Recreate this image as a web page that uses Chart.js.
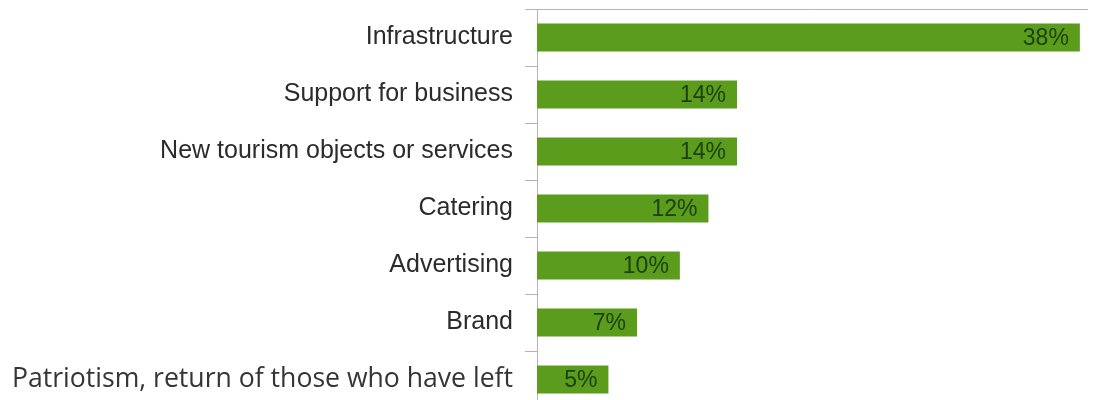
<!DOCTYPE html>
<html>
<head>
<meta charset="utf-8">
<script src="https://cdn.jsdelivr.net/npm/chart.js@4"></script>
<style>
    html, body {
        margin: 0;
        padding: 0;
        background: #ffffff;
        overflow: hidden;
    }
    #chart-box {
        width: 1097px;
        height: 408px;
    }
</style>
</head>
<body>
<div id="chart-box">
    <canvas id="myChart"></canvas>
</div>
<script>
// Categorias (de arriba hacia abajo)
const categorias = [
    "Infrastructure",
    "Support for business",
    "New tourism objects or services",
    "Catering",
    "Advertising",
    "Brand",
    "Patriotism, return of those who have left",
];

// Porcentajes de cada categoria
const valores = [38, 14, 14, 12, 10, 7, 5];

// Limite del eje horizontal
const maxEje = 38.5;

const verdeBarra = "#5b9c1c";
const verdeTexto = "#1c420c";
const grisEje = "#b4b4b4";

// Plugin para escribir el porcentaje dentro del final de cada barra
const etiquetasBarras = {
    id: "etiquetasBarras",
    afterDatasetsDraw(chart) {
        const ctx = chart.ctx;
        const meta = chart.getDatasetMeta(0);
        ctx.save();
        ctx.font = "23px 'Liberation Sans', Arial, sans-serif";
        ctx.fillStyle = verdeTexto;
        ctx.textAlign = "right";
        ctx.textBaseline = "middle";
        meta.data.forEach((barra, i) => {
            ctx.fillText(valores[i] + "%", barra.x - 11, barra.y + 1);
        });
        ctx.restore();
    }
};

const config = {
    type: "bar",
    data: {
        labels: categorias,
        datasets: [
            {
                data: valores,
                backgroundColor: verdeBarra,
                borderWidth: 0,
                barPercentage: 1,
                categoryPercentage: 0.49,
            }
        ]
    },
    options: {
        indexAxis: "y",
        responsive: true,
        maintainAspectRatio: false,
        animation: false,
        layout: {
            padding: {
                top: 0,
                bottom: 0,
                left: 0,
                right: 10,
            }
        },
        scales: {
            x: {
                position: "top",
                min: 0,
                max: maxEje,
                ticks: { display: false },
                grid: { display: false },
                border: { display: true, color: grisEje, width: 1 },
                afterFit(scale) {
                    scale.height = 9;
                }
            },
            y: {
                grid: {
                    offset: true,
                    drawOnChartArea: false,
                    drawTicks: true,
                    tickLength: 12,
                    color: grisEje,
                },
                border: { display: true, color: grisEje, width: 1 },
                ticks: {
                    padding: 12,
                    color: (c) => c.index === 6 ? "#353535" : "#2b2b2b",
                    font: (c) => c.index === 6
                        ? { family: "'Open Sans', sans-serif", size: 26.6 }
                        : { family: "'Liberation Sans', Arial, sans-serif", size: 25 },
                },
                afterFit(scale) {
                    // ancho fijo del eje y sin relleno extra arriba/abajo
                    scale.width = 537;
                    scale.paddingTop = 0;
                    scale.paddingBottom = 0;
                }
            }
        },
        plugins: {
            legend: { display: false },
            tooltip: { enabled: false },
        }
    },
    plugins: [etiquetasBarras]
};

const myChart = document.getElementById("myChart");
new Chart(myChart, config);
</script>
</body>
</html>
